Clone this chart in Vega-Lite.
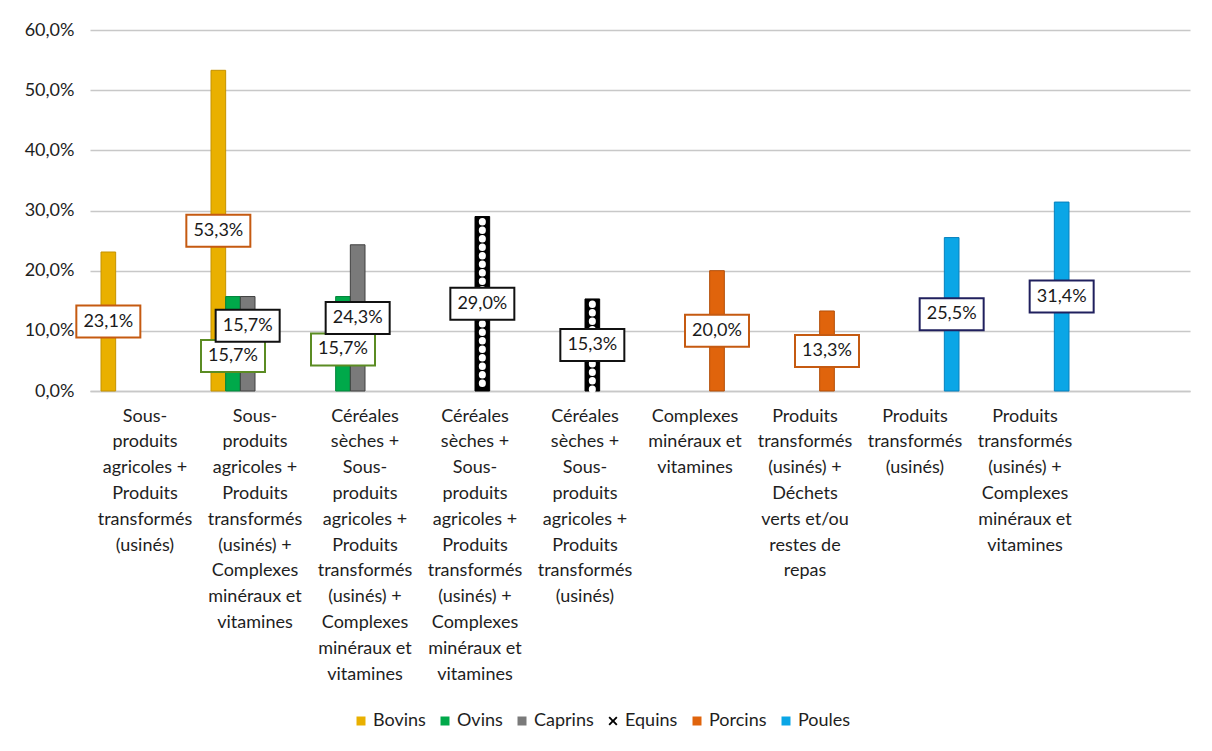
{
  "$schema": "https://vega.github.io/schema/vega-lite/v6.json",
  "width": 1100,
  "height": 361,
  "autosize": {"type": "none"},
  "padding": {"left": 90, "top": 30, "right": 22, "bottom": 360},
  "background": "white",
  "config": {
    "locale": {"number": {"decimal": ",", "thousands": " ", "grouping": [3], "currency": ["", " €"]}},
    "view": {"stroke": null},
    "font": "Lato",
    "axis": {"labelFont": "Lato", "labelFontSize": 18, "labelColor": "#1e1e1e"},
    "legend": {"labelFont": "Lato", "labelFontSize": 18, "labelColor": "#1e1e1e"}
  },
  "data": {
    "values": [
      {"groupe": "G1", "espece": "Bovins", "valeur": 0.231},
      {"groupe": "G2", "espece": "Bovins", "valeur": 0.533},
      {"groupe": "G2", "espece": "Ovins", "valeur": 0.157},
      {"groupe": "G2", "espece": "Caprins", "valeur": 0.157},
      {"groupe": "G3", "espece": "Ovins", "valeur": 0.157},
      {"groupe": "G3", "espece": "Caprins", "valeur": 0.243},
      {"groupe": "G4", "espece": "Equins", "valeur": 0.290},
      {"groupe": "G5", "espece": "Equins", "valeur": 0.153},
      {"groupe": "G6", "espece": "Porcins", "valeur": 0.200},
      {"groupe": "G7", "espece": "Porcins", "valeur": 0.133},
      {"groupe": "G8", "espece": "Poules", "valeur": 0.255},
      {"groupe": "G9", "espece": "Poules", "valeur": 0.314}
    ]
  },
  "transform": [
    {
      "calculate": "datum.valeur * (datum.groupe === 'G2' && datum.espece === 'Ovins' ? 0.37 : datum.groupe === 'G2' && datum.espece === 'Caprins' ? 0.69 : datum.groupe === 'G3' && datum.espece === 'Ovins' ? 0.44 : 0.5)",
      "as": "ancrage"
    }
  ],
  "encoding": {
    "x": {
      "field": "groupe",
      "type": "nominal",
      "sort": null,
      "scale": {
        "domain": ["G1", "G2", "G3", "G4", "G5", "G6", "G7", "G8", "G9", "G10"],
        "paddingInner": 0.2,
        "paddingOuter": 0.1
      },
      "axis": {
        "title": null,
        "ticks": false,
        "grid": false,
        "labelAngle": 0,
        "labelAlign": "center",
        "labelBaseline": "top",
        "labelPadding": 16,
        "labelLineHeight": 25.8,
        "labelLimit": 0,
        "labelOverlap": false,
        "domainColor": "#c8c8c8",
        "domainWidth": 1.5,
        "labelExpr": "({'G1': ['Sous-', 'produits', 'agricoles +', 'Produits', 'transformés', '(usinés)'], 'G2': ['Sous-', 'produits', 'agricoles +', 'Produits', 'transformés', '(usinés) +', 'Complexes', 'minéraux et', 'vitamines'], 'G3': ['Céréales', 'sèches +', 'Sous-', 'produits', 'agricoles +', 'Produits', 'transformés', '(usinés) +', 'Complexes', 'minéraux et', 'vitamines'], 'G4': ['Céréales', 'sèches +', 'Sous-', 'produits', 'agricoles +', 'Produits', 'transformés', '(usinés) +', 'Complexes', 'minéraux et', 'vitamines'], 'G5': ['Céréales', 'sèches +', 'Sous-', 'produits', 'agricoles +', 'Produits', 'transformés', '(usinés)'], 'G6': ['Complexes', 'minéraux et', 'vitamines'], 'G7': ['Produits', 'transformés', '(usinés) +', 'Déchets', 'verts et/ou', 'restes de', 'repas'], 'G8': ['Produits', 'transformés', '(usinés)'], 'G9': ['Produits', 'transformés', '(usinés) +', 'Complexes', 'minéraux et', 'vitamines'], 'G10': ''})[datum.value]"
      }
    },
    "xOffset": {
      "field": "espece",
      "type": "nominal",
      "scale": {"domain": ["Bovins", "Ovins", "Caprins", "Equins", "Porcins", "Poules"], "paddingInner": 0, "paddingOuter": 0}
    },
    "y": {
      "field": "valeur",
      "type": "quantitative",
      "scale": {"domain": [0, 0.6], "nice": false, "zero": true},
      "axis": {
        "title": null,
        "format": ".1%",
        "values": [0, 0.1, 0.2, 0.3, 0.4, 0.5, 0.6],
        "domain": false,
        "ticks": false,
        "labelPadding": 16,
        "gridColor": "#c8c8c8",
        "gridWidth": 1.5
      }
    }
  },
  "layer": [
    {
      "mark": {"type": "bar", "strokeWidth": 1},
      "encoding": {
        "color": {
          "field": "espece",
          "type": "nominal",
          "scale": {
            "domain": ["Bovins", "Ovins", "Caprins", "Equins", "Porcins", "Poules"],
            "range": ["#e9b000", "#00a94a", "#7a7a7a", "#000000", "#e0640c", "#0aa6e6"]
          },
          "legend": {
            "title": null,
            "orient": "none",
            "direction": "horizontal",
            "legendX": 262,
            "legendY": 682,
            "padding": 0,
            "symbolType": "square",
            "symbolSize": 81,
            "symbolStrokeWidth": 0,
            "labelOffset": 3,
            "columnPadding": 10,
            "encode": {
              "symbols": {
                "update": {
                  "shape": {"signal": "datum.value === 'Equins' ? 'M-1,-0.7L-0.7,-1L0,-0.3L0.7,-1L1,-0.7L0.3,0L1,0.7L0.7,1L0,0.3L-0.7,1L-1,0.7L-0.3,0Z' : 'square'"}
                }
              }
            }
          }
        },
        "stroke": {
          "field": "espece",
          "type": "nominal",
          "scale": {
            "domain": ["Bovins", "Ovins", "Caprins", "Equins", "Porcins", "Poules"],
            "range": ["#c49200", "#00843a", "#404040", "#000000", "#b24e08", "#0680bd"]
          },
          "legend": null
        }
      }
    },
    {
      "transform": [{"filter": "datum.espece === 'Equins'"}],
      "mark": {"type": "rule", "color": "white", "strokeWidth": 7, "strokeDash": [0.5, 8], "strokeCap": "round", "strokeDashOffset": -5},
      "encoding": {
        "y2": {"datum": 0}
      }
    },
    {
      "mark": {
        "type": "point",
        "shape": "M-1,-0.5H1V0.5H-1Z",
        "size": 4096,
        "filled": false,
        "fill": "white",
        "fillOpacity": 1,
        "strokeWidth": 2,
        "opacity": 1
      },
      "encoding": {
        "y": {"field": "ancrage", "type": "quantitative"},
        "stroke": {
          "field": "espece",
          "type": "nominal",
          "scale": {
            "domain": ["Bovins", "Ovins", "Caprins", "Equins", "Porcins", "Poules"],
            "range": ["#c55a11", "#5b8c23", "#111111", "#111111", "#c55a11", "#20205e"]
          },
          "legend": null
        }
      }
    },
    {
      "mark": {"type": "text", "fontSize": 18, "color": "#1a1a1a", "align": "center", "baseline": "middle"},
      "encoding": {
        "y": {"field": "ancrage", "type": "quantitative"},
        "text": {"field": "valeur", "type": "quantitative", "format": ".1%"}
      }
    }
  ],
  "resolve": {"scale": {"stroke": "independent"}}
}
